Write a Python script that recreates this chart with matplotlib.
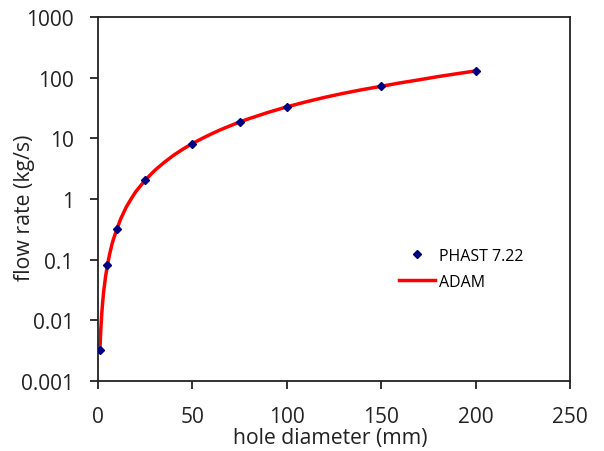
import numpy as np
import matplotlib.pyplot as plt

plt.rcParams['font.family'] = ['Open Sans', 'DejaVu Sans']

# PHAST 7.22 points
phast_d = [1, 5, 10, 25, 50, 75, 100, 150, 200]
phast_q = [0.0033, 0.082, 0.32, 2.05, 8.2, 18.6, 33.0, 72.0, 129.0]

# ADAM curve
adam_d = [1, 1.5, 2, 2.5, 3, 4, 5, 6, 7.5, 8, 10, 12, 15, 17.5, 20, 25, 30, 35, 40, 45,
          50, 55, 60, 65, 70, 75, 80, 90, 100, 110, 120, 130, 140, 150, 160, 170, 180,
          190, 200]
adam_q = [0.0033, 0.0074, 0.0132, 0.0206, 0.030, 0.053, 0.082, 0.118, 0.185, 0.21,
          0.32, 0.47, 0.74, 1.0, 1.32, 2.05, 2.95, 4.0, 5.25, 6.65,
          8.2, 9.9, 11.8, 13.9, 16.1, 18.6, 21.1, 26.7, 33.0, 39.8, 47.3, 55.2, 63.5,
          72.0, 82.0, 92.0, 104.0, 116.0, 129.0]

xticks = [0, 50, 100, 150, 200, 250]
yticks = [0.001, 0.01, 0.1, 1, 10, 100, 1000]
ylabels = ['0.001', '0.01', '0.1', '1', '10', '100', '1000']

fig = plt.figure(figsize=(6.04, 4.52), dpi=100)
ax = fig.add_axes([0.1623, 0.1549, 0.7814, 0.8053])

ax.plot(adam_d, adam_q, color='#ff0000', lw=2.5, label='ADAM', zorder=2)
ax.plot(phast_d, phast_q, linestyle='none', marker='D', ms=4.4, color='#000080',
        label='PHAST 7.22', zorder=3)

ax.set_yscale('log')
ax.set_xlim(0, 250)
ax.set_ylim(0.001, 1000)
ax.set_xticks(xticks)
ax.set_yticks(yticks)
ax.set_yticklabels(ylabels)
ax.minorticks_off()

for s in ax.spines.values():
    s.set_linewidth(1.3)
    s.set_color('#222222')
ax.tick_params(axis='both', direction='out', length=6, width=1.3, color='#222222',
               labelsize=15, labelcolor='#222222')
ax.tick_params(axis='y', pad=11.5)
ax.tick_params(axis='x', pad=12)

ax.set_xlabel('hole diameter (mm)', fontsize=15.2, color='#222222')
ax.set_ylabel('flow rate (kg/s)', fontsize=15.3, color='#222222')
ax.xaxis.set_label_coords(0.4926, -0.1264)
ax.yaxis.set_label_coords(-0.134, 0.479)

h, l = ax.get_legend_handles_labels()
ax.legend(h[::-1], l[::-1], loc='upper left', bbox_to_anchor=(0.637, 0.3655), frameon=False,
          fontsize=11.5, handlelength=2.3, handletextpad=0.2, labelspacing=0.6,
          borderpad=0, borderaxespad=0)

fig.savefig('out.png', dpi=100)
